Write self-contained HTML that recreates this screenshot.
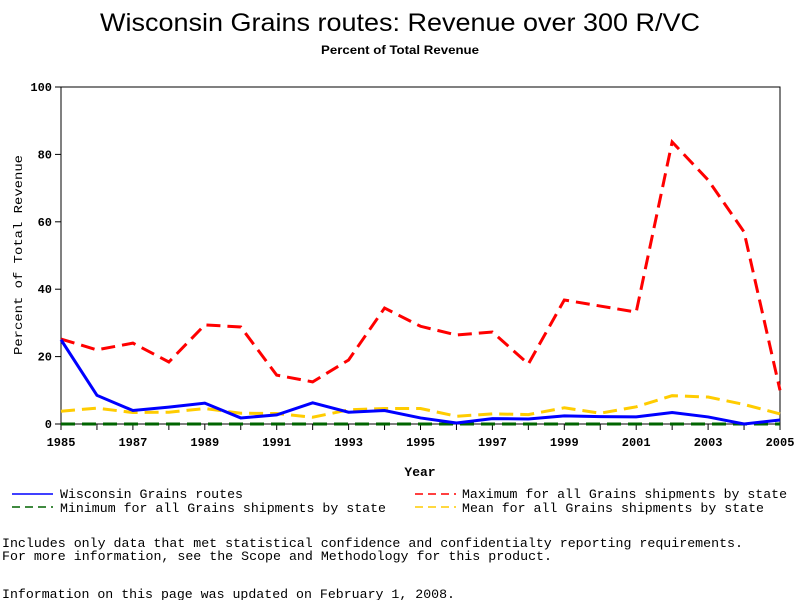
<!DOCTYPE html>
<html><head><meta charset="utf-8"><style>
body{margin:0;background:#fff;width:800px;height:600px;overflow:hidden}
svg{display:block}
text{font-family:"Liberation Mono",monospace;fill:#000}
</style></head><body>
<svg id="chart" width="800" height="600">
<text x="100" y="31" textLength="600" lengthAdjust="spacingAndGlyphs" style="font-family:'Liberation Sans',sans-serif;font-size:25px">Wisconsin Grains routes: Revenue over 300 R/VC</text>
<text x="321" y="54" textLength="158" lengthAdjust="spacingAndGlyphs" style="font-family:'Liberation Sans',sans-serif;font-size:12px;font-weight:bold">Percent of Total Revenue</text>
<rect x="61" y="87" width="719" height="337" fill="none" stroke="#000" stroke-width="1"/>
<text transform="translate(22,355) rotate(-90)" textLength="200" lengthAdjust="spacingAndGlyphs" style="font-size:12px">Percent of Total Revenue</text>
<text x="420" y="476" text-anchor="middle" style="font-size:13px;font-weight:bold">Year</text>
<g id="ticks"></g>
<g id="series"></g>
<g>
<line x1="12" y1="494" x2="53" y2="494" stroke="#0000ff" stroke-width="1.5"/>
<text x="60" y="498" textLength="183" lengthAdjust="spacingAndGlyphs" style="font-size:13px">Wisconsin Grains routes</text>
<line x1="12" y1="507" x2="53" y2="507" stroke="#006400" stroke-width="1.5" stroke-dasharray="8,5"/>
<text x="60" y="512" textLength="326" lengthAdjust="spacingAndGlyphs" style="font-size:13px">Minimum for all Grains shipments by state</text>
<line x1="415" y1="494" x2="456" y2="494" stroke="#ff0000" stroke-width="1.5" stroke-dasharray="8,5"/>
<text x="462" y="498" textLength="325" lengthAdjust="spacingAndGlyphs" style="font-size:13px">Maximum for all Grains shipments by state</text>
<line x1="415" y1="507" x2="456" y2="507" stroke="#ffcc00" stroke-width="1.5" stroke-dasharray="8,5"/>
<text x="462" y="512" textLength="302" lengthAdjust="spacingAndGlyphs" style="font-size:13px">Mean for all Grains shipments by state</text>
</g>
<text x="2" y="547" textLength="741" lengthAdjust="spacingAndGlyphs" style="font-size:13px">Includes only data that met statistical confidence and confidentialty reporting requirements.</text>
<text x="2" y="560" textLength="550" lengthAdjust="spacingAndGlyphs" style="font-size:13px">For more information, see the Scope and Methodology for this product.</text>
<text x="2" y="598" textLength="453" lengthAdjust="spacingAndGlyphs" style="font-size:13px">Information on this page was updated on February 1, 2008.</text>
</svg>
<script>
const years=[1985,1986,1987,1988,1989,1990,1991,1992,1993,1994,1995,1996,1997,1998,1999,2000,2001,2002,2003,2004,2005];
const wisconsin=[25,8.5,4,5,6.2,1.8,2.7,6.3,3.5,4,1.8,0.3,1.6,1.5,2.4,2.2,2.1,3.4,2.1,0,1.2];
const maximum=[25.2,22,24,18.4,29.4,28.8,14.5,12.5,19,34.4,29,26.4,27.3,17.8,36.8,35,33.2,83.7,72.4,57,10];
const minimum=[0,0,0,0,0,0,0,0,0,0,0,0,0,0,0,0,0,0,0,0,0];
const mean=[3.8,4.7,3.4,3.5,4.6,3.2,3.1,2,4.2,4.6,4.6,2.3,3,2.8,4.8,3.2,5.1,8.4,8,5.8,3];
const yTicks=[0,20,40,60,80,100];
const xTickLabels=[1985,1987,1989,1991,1993,1995,1997,1999,2001,2003,2005];
const NS="http://www.w3.org/2000/svg";
function xs(v){return 61+(v-1985)*(719/20);}
function ys(v){return 424-v*3.37;}
const tg=document.getElementById('ticks');
function mk(t,a,p){const e=document.createElementNS(NS,t);for(const k in a)e.setAttribute(k,a[k]);p.appendChild(e);return e;}
yTicks.forEach(v=>{
  const l=mk('line',{x1:55,x2:61,y1:ys(v),y2:ys(v),stroke:'#000'},tg);
  
  
  const t=mk('text',{x:52,y:ys(v)+4,'text-anchor':'end',style:'font-size:12px;font-weight:bold'},tg);
  t.textContent=v;
  
  
});
years.forEach(v=>{
  const l=mk('line',{x1:xs(v),x2:xs(v),y1:424,y2:430,stroke:'#000'},tg);
  
  
});
xTickLabels.forEach(v=>{
  const t=mk('text',{x:xs(v),y:446,'text-anchor':'middle',style:'font-size:12px;font-weight:bold'},tg);
  t.textContent=v;
  
  
});
const sg=document.getElementById('series');
function line(vals,color,dash,name){
  const p=mk('polyline',{points:vals.map((v,i)=>xs(years[i])+','+ys(v)).join(' '),fill:'none',stroke:color,'stroke-width':3,'stroke-dasharray':dash},sg);
  
  
}
line(minimum,'#006400','14,7','series-minimum');
line(mean,'#ffcc00','14,7','series-mean');
line(maximum,'#ff0000','14,7','series-maximum');
line(wisconsin,'#0000ff','none','series-wisconsin');
</script>
</body></html>
